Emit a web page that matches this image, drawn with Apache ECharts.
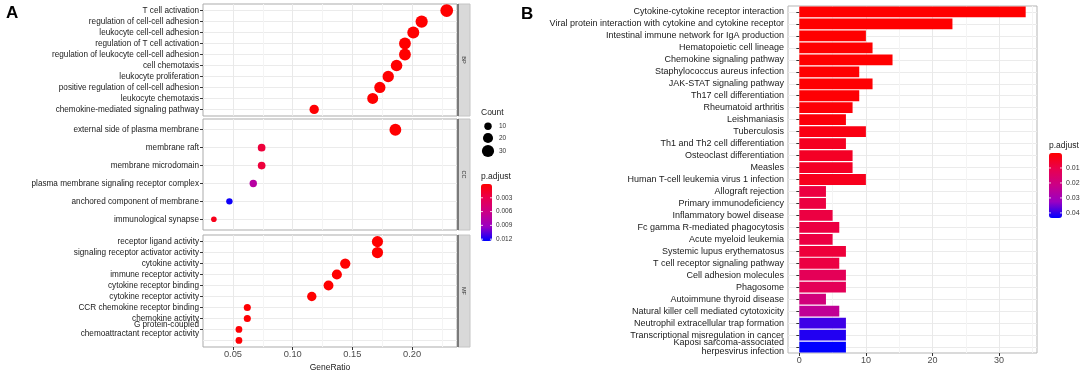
<!DOCTYPE html>
<html>
<head>
<meta charset="utf-8">
<script src="https://cdn.jsdelivr.net/npm/echarts@6/dist/echarts.min.js"></script>
<style>
  html, body { margin: 0; padding: 0; background: #fff; }
  #chart { width: 1084px; height: 370px; }
</style>
</head>
<body>
<div id="chart"></div>
<script>
// ---- panel A: GO dot plot ----
const bpTerms = ['T cell activation', 'regulation of cell-cell adhesion', 'leukocyte cell-cell adhesion',
  'regulation of T cell activation', 'regulation of leukocyte cell-cell adhesion', 'cell chemotaxis',
  'leukocyte proliferation', 'positive regulation of cell-cell adhesion', 'leukocyte chemotaxis',
  'chemokine-mediated signaling pathway'];
const bpRatio = [0.229, 0.208, 0.201, 0.194, 0.194, 0.187, 0.180, 0.173, 0.167, 0.118];
const bpCount = [33, 30, 29, 28, 28, 27, 26, 25, 24, 17];
const bpPadj = [0.00001, 0.00001, 0.00001, 0.00001, 0.00001, 0.00002, 0.00002, 0.00002, 0.00003, 0.0001];

const ccTerms = ['external side of plasma membrane', 'membrane raft', 'membrane microdomain',
  'plasma membrane signaling receptor complex', 'anchored component of membrane', 'immunological synapse'];
const ccRatio = [0.186, 0.074, 0.074, 0.067, 0.047, 0.034];
const ccCount = [28, 11, 11, 10, 7, 5];
const ccPadj = [0.00002, 0.0023, 0.0023, 0.0075, 0.0121, 0.0010];

const mfTerms = ['receptor ligand activity', 'signaling receptor activator activity', 'cytokine activity',
  'immune receptor activity', 'cytokine receptor binding', 'cytokine receptor activity',
  'CCR chemokine receptor binding', 'chemokine activity',
  'G protein-coupled\nchemoattractant receptor activity', 'chemokine receptor activity'];
const mfRatio = [0.171, 0.171, 0.144, 0.137, 0.130, 0.116, 0.062, 0.062, 0.055, 0.055];
const mfCount = [25, 25, 21, 20, 19, 17, 9, 9, 8, 8];
const mfPadj = [0.00001, 0.00001, 0.00001, 0.00001, 0.00001, 0.00002, 0.0001, 0.0001, 0.0002, 0.0002];

// ---- panel B: KEGG bar plot ----
const keggTerms = ['Cytokine-cytokine receptor interaction',
  'Viral protein interaction with cytokine and cytokine receptor',
  'Intestinal immune network for IgA production', 'Hematopoietic cell lineage',
  'Chemokine signaling pathway', 'Staphylococcus aureus infection', 'JAK-STAT signaling pathway',
  'Th17 cell differentiation', 'Rheumatoid arthritis', 'Leishmaniasis', 'Tuberculosis',
  'Th1 and Th2 cell differentiation', 'Osteoclast differentiation', 'Measles',
  'Human T-cell leukemia virus 1 infection', 'Allograft rejection', 'Primary immunodeficiency',
  'Inflammatory bowel disease', 'Fc gamma R-mediated phagocytosis', 'Acute myeloid leukemia',
  'Systemic lupus erythematosus', 'T cell receptor signaling pathway', 'Cell adhesion molecules',
  'Phagosome', 'Autoimmune thyroid disease', 'Natural killer cell mediated cytotoxicity',
  'Neutrophil extracellular trap formation', 'Transcriptional misregulation in cancer',
  'Kaposi sarcoma-associated\nherpesvirus infection'];
const keggCount = [34, 23, 10, 11, 14, 9, 11, 9, 8, 7, 10, 7, 8, 8, 10, 4, 4, 5, 6, 5, 7, 6, 7, 7, 4, 6, 7, 7, 7];
const keggPadj = [0.00001, 0.00001, 0.0001, 0.0001, 0.0002, 0.0003, 0.0004, 0.0006, 0.0008, 0.0012,
  0.0025, 0.0045, 0.005, 0.005, 0.004, 0.0088, 0.0088, 0.009, 0.0088, 0.009, 0.0078, 0.009,
  0.0122, 0.0122, 0.019, 0.024, 0.039, 0.041, 0.0434];

// ticks
const ratioTicks = [0.05, 0.10, 0.15, 0.20];
const ratioGrid = [0.05, 0.075, 0.10, 0.125, 0.15, 0.175, 0.20, 0.225];
const countTicks = [0, 10, 20, 30];
const countGrid = [0, 5, 10, 15, 20, 25, 30, 35];
const countLegend = [10, 20, 30];
const padjTicksA = [0.003, 0.006, 0.009, 0.012];
const padjTicksB = [0.01, 0.02, 0.03, 0.04];

const FONT = '"Liberation Sans", Arial, sans-serif';
const ramp = ['#ff0000', '#e80050', '#ca0088', '#9a00c3', '#0000ff'];
const dotSize = c => Math.sqrt(8 + 4.7 * c);

const facets = [
  { name: 'BP', terms: bpTerms, ratio: bpRatio, count: bpCount, padj: bpPadj, top: 4, height: 112 },
  { name: 'CC', terms: ccTerms, ratio: ccRatio, count: ccCount, padj: ccPadj, top: 119, height: 111 },
  { name: 'MF', terms: mfTerms, ratio: mfRatio, count: mfCount, padj: mfPadj, top: 235, height: 112 }
];
const A_LEFT = 203, A_W = 254;
const B = { left: 788, top: 6, width: 249, height: 347 };
const ratioMin = 0.0249, ratioMax = 0.2376;
const legA = { left: 481, top: 184, w: 11, h: 57, max: 0.0124 };
const legB = { left: 1049, top: 153, w: 13, h: 65, max: 0.0434 };

const chart = echarts.init(document.getElementById('chart'));

const grids = facets.map(f => ({
  left: A_LEFT, top: f.top, width: A_W, height: f.height,
  show: true, borderColor: '#ababab', borderWidth: 1, backgroundColor: '#fff',
  outerBoundsMode: 'none'
}));
grids.push({ left: B.left, top: B.top, width: B.width, height: B.height,
  show: true, borderColor: '#b5b5b5', borderWidth: 1, backgroundColor: '#fff', outerBoundsMode: 'none' });

const gridLine = { show: true, lineStyle: { color: ['#e9e9e9', '#f4f4f4'], width: 1 } };
const hidden = { show: false };

const xAxes = facets.map((f, i) => ({
  type: 'value', gridIndex: i, min: ratioMin, max: ratioMax, position: 'bottom',
  axisLine: hidden, axisTick: { show: false, customValues: ratioGrid },
  axisLabel: hidden, splitLine: gridLine
}));
xAxes.push({
  type: 'value', gridIndex: 2, min: ratioMin, max: ratioMax, position: 'bottom',
  axisLine: hidden, splitLine: hidden,
  axisTick: { show: true, customValues: ratioTicks, length: 3, lineStyle: { color: '#333' } },
  axisLabel: { customValues: ratioTicks, formatter: v => v.toFixed(2), fontSize: 9.3,
    fontFamily: FONT, color: '#4d4d4d', margin: 3 },
  name: 'GeneRatio', nameLocation: 'middle', nameGap: 16,
  nameTextStyle: { fontSize: 8.5, fontFamily: FONT, color: '#1a1a1a' }
});
xAxes.push({
  type: 'value', gridIndex: 3, min: -1.7, max: 35.7, position: 'bottom',
  axisLine: hidden, axisTick: { show: false, customValues: countGrid },
  axisLabel: hidden, splitLine: gridLine
});
xAxes.push({
  type: 'value', gridIndex: 3, min: -1.7, max: 35.7, position: 'bottom',
  axisLine: hidden, splitLine: hidden,
  axisTick: { show: true, customValues: countTicks, length: 3, lineStyle: { color: '#333' } },
  axisLabel: { customValues: countTicks, fontSize: 9, fontFamily: FONT, color: '#4d4d4d', margin: 3 }
});

const yAxes = facets.map((f, i) => {
  const idx = f.terms.map((t, j) => j);
  return {
    type: 'value', gridIndex: i, inverse: true, min: -0.6, max: f.terms.length - 0.4, position: 'left',
    axisLine: hidden,
    axisTick: { show: true, customValues: idx, length: 3, lineStyle: { color: '#333' } },
    axisLabel: { customValues: idx, formatter: v => f.terms[Math.round(v)], fontSize: 8.2,
      fontFamily: FONT, color: '#1a1a1a', margin: 4, lineHeight: 8.5 },
    splitLine: { show: true, lineStyle: { color: '#ebebeb', width: 1 } }
  };
});
yAxes.push({
  type: 'category', gridIndex: 3, inverse: true, data: keggTerms, position: 'left',
  axisLine: hidden,
  axisTick: { show: true, alignWithLabel: true, length: 3, lineStyle: { color: '#333' } },
  axisLabel: { interval: 0, fontSize: 9, fontFamily: FONT, color: '#1a1a1a', margin: 4, lineHeight: 9.5 },
  splitLine: hidden
});
yAxes.push({
  type: 'value', gridIndex: 3, inverse: true, min: -0.5, max: keggTerms.length - 0.5, position: 'left',
  axisLine: hidden, axisTick: { show: false, customValues: keggTerms.map((t, j) => j) },
  axisLabel: hidden, splitLine: { show: true, lineStyle: { color: '#ebebeb', width: 1 } }
});

const series = facets.map((f, i) => ({
  type: 'scatter', xAxisIndex: i, yAxisIndex: i,
  data: f.terms.map((t, j) => [f.ratio[j], j, f.count[j], f.padj[j]]),
  symbolSize: v => dotSize(v[2]),
  itemStyle: { opacity: 1 },
  emphasis: { disabled: true }, silent: true
}));
series.push({
  type: 'bar', xAxisIndex: 4, yAxisIndex: 3,
  data: keggTerms.map((t, j) => [keggCount[j], t, keggPadj[j]]),
  encode: { x: 0, y: 1 }, barWidth: '90%',
  emphasis: { disabled: true }, silent: true
});

// graphic elements: panel letters, strips, legends
const txt = (text, x, y, size, opts) => ({
  type: 'text', x: x, y: y, silent: true,
  style: Object.assign({ text: text, fontSize: size, fontFamily: FONT, fill: '#1a1a1a',
    align: 'left', textAlign: 'left', verticalAlign: 'middle', textVerticalAlign: 'middle' }, opts || {})
});
const graphic = [];
graphic.push(txt('A', 6, 13, 17, { fontWeight: 'bold', fill: '#000' }));
graphic.push(txt('B', 521, 14, 17, { fontWeight: 'bold', fill: '#000' }));

facets.forEach(f => {
  graphic.push({ type: 'rect', silent: true, shape: { x: 458, y: f.top, width: 12, height: f.height },
    style: { fill: '#d9d9d9', stroke: '#c4c4c4', lineWidth: 1 } });
  graphic.push({ type: 'line', silent: true, shape: { x1: 458, y1: f.top, x2: 458, y2: f.top + f.height },
    style: { stroke: '#7a7a7a', lineWidth: 2 } });
  const t = txt(f.name, 464, f.top + f.height / 2, 5.5, { align: 'center', textAlign: 'center', fill: '#333' });
  t.rotation = -Math.PI / 2;
  graphic.push(t);
});

// Count legend
graphic.push(txt('Count', 481, 113, 8.5));
countLegend.forEach((c, i) => {
  const cy = [126.3, 138, 151][i];
  graphic.push({ type: 'circle', silent: true, shape: { cx: 488, cy: cy, r: dotSize(c) / 2 }, style: { fill: '#000' } });
  graphic.push(txt(String(c), 499, cy, 6.5, { fill: '#333' }));
});

// p.adjust legends
function padjLegend(leg, ticks, titleY, labelSize) {
  graphic.push(txt('p.adjust', leg.left, titleY, 8.5));
  ticks.forEach(v => {
    const y = leg.top + v / leg.max * leg.h;
    graphic.push({ type: 'line', silent: true, z: 100,
      shape: { x1: leg.left, y1: y, x2: leg.left + 2, y2: y }, style: { stroke: '#fff', lineWidth: 0.8 } });
    graphic.push({ type: 'line', silent: true, z: 100,
      shape: { x1: leg.left + leg.w - 2, y1: y, x2: leg.left + leg.w, y2: y }, style: { stroke: '#fff', lineWidth: 0.8 } });
    graphic.push(txt(String(v), leg.left + leg.w + 4, y, labelSize, { fill: '#333' }));
  });
}
padjLegend(legA, padjTicksA, 177, 6.5);
padjLegend(legB, padjTicksB, 146, 7);

const visualMap = [
  { type: 'continuous', seriesIndex: [0, 1, 2], dimension: 3, min: 0, max: legA.max, inverse: true,
    calculable: false, left: legA.left, top: legA.top, itemWidth: legA.w, itemHeight: legA.h,
    padding: 0, inRange: { color: ramp } },
  { type: 'continuous', seriesIndex: 3, dimension: 2, min: 0, max: legB.max, inverse: true,
    calculable: false, left: legB.left, top: legB.top, itemWidth: legB.w, itemHeight: legB.h,
    padding: 0, inRange: { color: ramp } }
];

chart.setOption({
  animation: false,
  backgroundColor: '#fff',
  grid: grids,
  xAxis: xAxes,
  yAxis: yAxes,
  visualMap: visualMap,
  series: series,
  graphic: graphic
});
</script>
</body>
</html>
